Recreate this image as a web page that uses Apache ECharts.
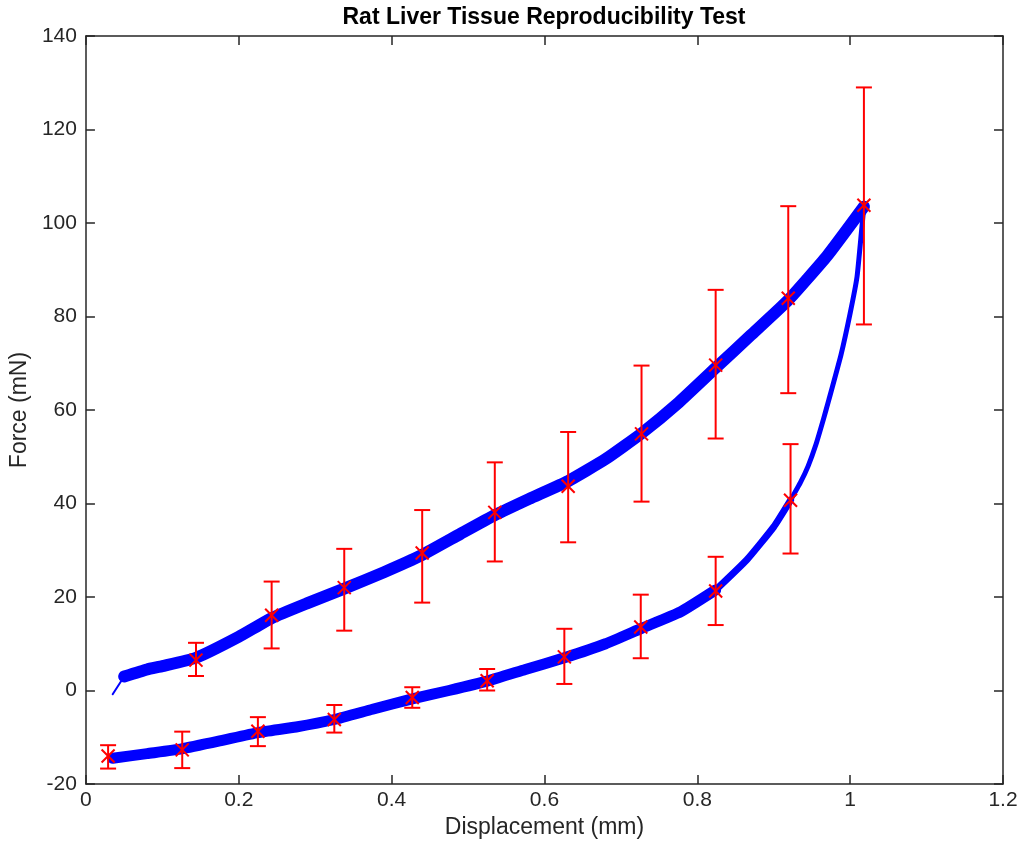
<!DOCTYPE html>
<html>
<head>
<meta charset="utf-8">
<title>Rat Liver Tissue Reproducibility Test</title>
<script src="https://cdn.jsdelivr.net/npm/echarts@6/dist/echarts.min.js"></script>
<style>
  html, body { margin: 0; padding: 0; background: #fff; }
  #chart { width: 1022px; height: 845px; }
</style>
</head>
<body>
<div id="chart"></div>
<script>
  // loading curve (blue, going up)
  const loadDisp  = [0.035, 0.05, 0.08, 0.10, 0.144, 0.20, 0.243, 0.29, 0.338, 0.39, 0.44, 0.49, 0.535, 0.58, 0.631, 0.68, 0.727, 0.775, 0.824, 0.87, 0.919, 0.97, 1.018];
  const loadForce = [-0.8, 3.0, 4.5, 5.2, 7.0, 11.5, 15.5, 18.7, 21.8, 25.3, 29.0, 33.5, 37.5, 41.0, 44.8, 49.5, 55.0, 61.5, 69.0, 76.0, 83.5, 93.0, 103.5];
  // unloading curve (blue, coming back down)
  const unloadDisp  = [1.018, 1.015, 1.009, 1.0, 0.988, 0.972, 0.965, 0.955, 0.945, 0.935, 0.922, 0.90, 0.865, 0.824, 0.778, 0.727, 0.68, 0.626, 0.575, 0.525, 0.475, 0.427, 0.375, 0.325, 0.275, 0.225, 0.175, 0.125, 0.08, 0.035];
  const unloadForce = [103.5, 98.5, 88.5, 80.7, 71.8, 62.1, 58.0, 52.5, 48.0, 44.5, 40.7, 35.0, 28.0, 21.5, 16.8, 13.3, 10.0, 7.0, 4.5, 2.0, 0.0, -1.8, -4.0, -6.2, -7.8, -9.0, -10.8, -12.5, -13.5, -14.5];

  // error bars, loading branch
  const errLoadX    = [0.144, 0.243, 0.338, 0.440, 0.535, 0.631, 0.727, 0.824, 0.919, 1.018];
  const errLoadMean = [6.5, 16.1, 22.0, 29.4, 38.1, 43.7, 54.9, 69.6, 83.9, 103.8];
  const errLoadLow  = [3.1, 9.0, 12.8, 18.8, 27.6, 31.7, 40.4, 53.9, 63.6, 78.3];
  const errLoadHigh = [10.2, 23.3, 30.3, 38.6, 48.8, 55.3, 69.5, 85.7, 103.6, 129.0];
  // error bars, unloading branch
  const errUnloadX    = [0.029, 0.126, 0.225, 0.325, 0.427, 0.525, 0.626, 0.726, 0.824, 0.922];
  const errUnloadMean = [-14.0, -12.7, -8.7, -6.2, -1.5, 2.1, 7.2, 13.6, 21.3, 40.7];
  const errUnloadLow  = [-16.7, -16.6, -11.9, -9.0, -3.7, 0.0, 1.4, 6.9, 14.0, 29.3];
  const errUnloadHigh = [-11.7, -8.8, -5.7, -3.1, 0.7, 4.6, 13.2, 20.5, 28.6, 52.7];

  const xTicks = { min: 0, max: 1.2, interval: 0.2 };
  const yTicks = { min: -20, max: 140, interval: 20 };

  const axisColor = '#262626';
  const fontFamily = '"Liberation Sans", Arial, Helvetica, sans-serif';

  function pairs(xs, ys, from, to) {
    const out = [];
    for (let i = from; i <= to; i++) out.push([xs[i], ys[i]]);
    return out;
  }

  function blueLine(data, width) {
    return {
      type: 'line',
      data: data,
      showSymbol: false,
      symbol: 'none',
      smooth: 0.15,
      lineStyle: { color: '#0000ff', width: width, cap: 'round', join: 'round' },
      z: 2,
      silent: true
    };
  }

  function errData(xs, mean, low, high) {
    return xs.map((x, i) => [x, mean[i], low[i], high[i]]);
  }

  function renderErrorBar(params, api) {
    const x = api.value(0);
    const c = api.coord([x, api.value(1)]);
    const lo = api.coord([x, api.value(2)]);
    const hi = api.coord([x, api.value(3)]);
    const cap = 8, m = 6.5;
    const style = { stroke: '#ff0000', lineWidth: 2, fill: null };
    return {
      type: 'group',
      children: [
        { type: 'line', shape: { x1: lo[0], y1: lo[1], x2: hi[0], y2: hi[1] }, style: style },
        { type: 'line', shape: { x1: hi[0] - cap, y1: hi[1], x2: hi[0] + cap, y2: hi[1] }, style: style },
        { type: 'line', shape: { x1: lo[0] - cap, y1: lo[1], x2: lo[0] + cap, y2: lo[1] }, style: style },
        { type: 'line', shape: { x1: c[0] - m, y1: c[1] - m, x2: c[0] + m, y2: c[1] + m }, style: style },
        { type: 'line', shape: { x1: c[0] - m, y1: c[1] + m, x2: c[0] + m, y2: c[1] - m }, style: style }
      ]
    };
  }

  function errSeries(data) {
    return {
      type: 'custom',
      renderItem: renderErrorBar,
      data: data,
      encode: { x: 0, y: [1, 2, 3] },
      z: 5,
      silent: true
    };
  }

  const nLoad = loadDisp.length - 1;
  const nUnload = unloadDisp.length - 1;
  // the noise band gets thinner on the steep part of the unloading curve
  const series = [
    blueLine(pairs(loadDisp, loadForce, 0, 1), 2),
    blueLine(pairs(loadDisp, loadForce, 1, nLoad), 12),
    blueLine(pairs(unloadDisp, unloadForce, 0, 10), 5),
    blueLine(pairs(unloadDisp, unloadForce, 10, 13), 7),
    blueLine(pairs(unloadDisp, unloadForce, 13, nUnload), 11),
    errSeries(errData(errLoadX, errLoadMean, errLoadLow, errLoadHigh)),
    errSeries(errData(errUnloadX, errUnloadMean, errUnloadLow, errUnloadHigh))
  ];

  const chart = echarts.init(document.getElementById('chart'));

  const baseAxis = {
    type: 'value',
    axisLine: { show: true, onZero: false, lineStyle: { color: axisColor, width: 1.5 } },
    axisTick: { show: true, inside: true, length: 9, lineStyle: { color: axisColor, width: 1.5 } },
    splitLine: { show: false },
    axisLabel: { color: axisColor, fontSize: 21, fontFamily: fontFamily }
  };

  chart.setOption({
    animation: false,
    backgroundColor: '#ffffff',
    grid: { left: 85, top: 36, right: 19, bottom: 61, containLabel: false },
    graphic: [{
      type: 'text',
      x: 544,
      y: 18,
      style: {
        text: 'Rat Liver Tissue Reproducibility Test',
        fill: '#000000',
        font: 'bold 23px ' + fontFamily,
        textAlign: 'center',
        textVerticalAlign: 'middle'
      }
    }],
    xAxis: [
      Object.assign({}, baseAxis, xTicks, {
        position: 'bottom',
        name: 'Displacement (mm)',
        nameLocation: 'middle',
        nameGap: 31,
        nameTextStyle: { color: axisColor, fontSize: 23, fontFamily: fontFamily },
        axisLabel: Object.assign({}, baseAxis.axisLabel, { margin: 6 })
      }),
      Object.assign({}, baseAxis, xTicks, {
        position: 'top',
        axisLabel: { show: false }
      })
    ],
    yAxis: [
      Object.assign({}, baseAxis, yTicks, {
        position: 'left',
        name: 'Force (mN)',
        nameLocation: 'middle',
        nameRotate: 90,
        nameGap: 39,
        nameTextStyle: { color: axisColor, fontSize: 23, fontFamily: fontFamily },
        axisLabel: Object.assign({}, baseAxis.axisLabel, { margin: 9 })
      }),
      Object.assign({}, baseAxis, yTicks, {
        position: 'right',
        axisLabel: { show: false }
      })
    ],
    series: series
  });

  window.addEventListener('resize', function () {
    chart.resize();
  });
</script>
</body>
</html>
